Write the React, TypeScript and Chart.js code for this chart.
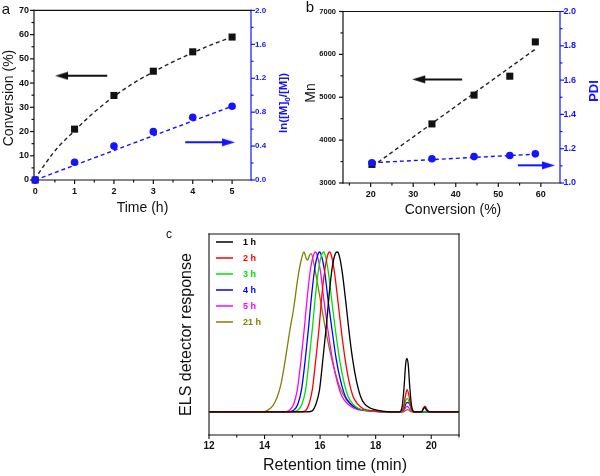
import React, { useEffect, useRef } from "react";
import { Chart, registerables } from "chart.js";

Chart.register(...registerables);

const FONT = "'Liberation Sans', Arial, Helvetica, sans-serif";
const INK = "#111111";
const BLUE = "#1414ff";
Chart.defaults.font.family = FONT;

// ---------------- panel a ----------------
const timeH = [0, 1, 2, 3, 4, 5];
const conversionPct = [0, 21.0, 34.9, 44.9, 52.9, 59.0];
const lnM0overM = [0, 0.21, 0.4, 0.57, 0.74, 0.87];
const convFitTime = [0, 0.04, 0.1, 0.2, 0.3, 0.45, 0.6, 0.8, 1, 1.25, 1.5, 2, 2.5, 3, 3.5, 4, 4.5, 5];
const convFitPct = [0, 1.3, 3.0, 5.4, 7.7, 11.0, 13.9, 17.2, 20.3, 24.3, 28, 34.5, 40, 44.6, 48.8, 52.5, 56, 59];
const lnFitTime = [0, 5];
const lnFitVal = [0, 0.87];
const arrowConvA: [number, number][] = [[0.81, 43], [1.83, 43]];
const arrowLnA: [number, number][] = [[3.81, 0.445], [4.77, 0.445]];
const aTimeTicks = [0, 1, 2, 3, 4, 5];
const aTimeMinor = [0.5, 1.5, 2.5, 3.5, 4.5];
const aConvTicks = [0, 10, 20, 30, 40, 50, 60, 70];
const aConvMinor = [5, 15, 25, 35, 45, 55, 65];
const aLnTicks = [0, 0.4, 0.8, 1.2, 1.6, 2.0];
const aLnMinor = [0.2, 0.6, 1.0, 1.4, 1.8];

// ---------------- panel b ----------------
const bConv = [20.3, 34.4, 44.3, 52.7, 58.7];
const bMn = [3434, 4378, 5050, 5491, 6291];
const bPdi = [1.118, 1.141, 1.154, 1.16, 1.17];
const bMnFitX = [20.4, 58.6];
const bMnFitY = [3389, 6115];
const bPdiFitX = [20.3, 58.7];
const bPdiFitY = [1.118, 1.168];
const arrowMnB: [number, number][] = [[32.6, 5416], [41.5, 5416]];
const arrowPdiB: [number, number][] = [[54.6, 1.103], [60.5, 1.103]];
const bConvTicks = [20, 30, 40, 50, 60];
const bConvMinor = [15, 25, 35, 45, 55];
const bMnTicks = [3000, 4000, 5000, 6000, 7000];
const bMnMinor = [3500, 4500, 5500, 6500];
const bPdiTicks = [1.0, 1.2, 1.4, 1.6, 1.8, 2.0];
const bPdiMinor = [1.1, 1.3, 1.5, 1.7, 1.9];

// ---------------- panel c ----------------
const gpcLabels = ["1 h", "2 h", "3 h", "4 h", "5 h", "21 h"];
const trace1h: [number, number][] = [
  [12, 0], [15.5, 0], [15.7, 0.005], [15.85, 0.05], [15.98, 0.14], [16.1, 0.33], [16.22, 0.53],
  [16.34, 0.76], [16.45, 0.92], [16.55, 0.99], [16.62, 1.0], [16.7, 0.97], [16.8, 0.87], [16.93, 0.68],
  [17.05, 0.49], [17.17, 0.33], [17.3, 0.2], [17.45, 0.1], [17.6, 0.05], [17.8, 0.025], [18.1, 0.01],
  [18.4, 0.002], [18.85, 0], [18.95, 0.03], [19.02, 0.15], [19.08, 0.3], [19.12, 0.335], [19.17, 0.3],
  [19.23, 0.15], [19.3, 0.03], [19.4, 0], [19.65, 0], [19.72, 0.02], [19.77, 0.028], [19.83, 0.012],
  [19.92, 0], [21, 0],
];
const trace2h: [number, number][] = [
  [12, 0], [15.25, 0], [15.45, 0.005], [15.6, 0.05], [15.72, 0.14], [15.84, 0.32], [15.96, 0.52],
  [16.07, 0.74], [16.18, 0.9], [16.27, 0.98], [16.34, 1.0], [16.42, 0.97], [16.52, 0.87], [16.65, 0.68],
  [16.77, 0.5], [16.9, 0.33], [17.03, 0.2], [17.18, 0.1], [17.35, 0.05], [17.55, 0.02], [17.85, 0.008],
  [18.2, 0.002], [18.9, 0], [19.0, 0.03], [19.07, 0.1], [19.13, 0.14], [19.19, 0.11], [19.26, 0.04],
  [19.35, 0], [19.65, 0], [19.72, 0.025], [19.78, 0.036], [19.85, 0.015], [19.94, 0], [21, 0],
];
const trace3h: [number, number][] = [
  [12, 0], [15.0, 0], [15.2, 0.01], [15.35, 0.05], [15.48, 0.14], [15.6, 0.32], [15.72, 0.52],
  [15.84, 0.74], [15.95, 0.9], [16.05, 0.98], [16.12, 1.0], [16.2, 0.97], [16.3, 0.87], [16.43, 0.68],
  [16.56, 0.5], [16.7, 0.33], [16.84, 0.2], [17.0, 0.1], [17.18, 0.05], [17.4, 0.02], [17.7, 0.008],
  [18.1, 0.002], [18.9, 0], [19.0, 0.02], [19.08, 0.07], [19.14, 0.085], [19.2, 0.065], [19.28, 0.02],
  [19.38, 0], [21, 0],
];
const trace4h: [number, number][] = [
  [12, 0], [14.85, 0], [15.05, 0.01], [15.2, 0.05], [15.33, 0.14], [15.46, 0.32], [15.58, 0.52],
  [15.7, 0.74], [15.81, 0.9], [15.91, 0.98], [15.98, 1.0], [16.06, 0.97], [16.17, 0.87], [16.3, 0.68],
  [16.44, 0.5], [16.58, 0.33], [16.73, 0.2], [16.9, 0.1], [17.1, 0.05], [17.35, 0.02], [17.7, 0.008],
  [18.1, 0.002], [18.9, 0], [19.02, 0.02], [19.1, 0.055], [19.17, 0.06], [19.24, 0.04], [19.32, 0.01],
  [19.42, 0], [21, 0],
];
const trace5h: [number, number][] = [
  [12, 0], [14.7, 0], [14.9, 0.01], [15.05, 0.05], [15.18, 0.14], [15.31, 0.32], [15.43, 0.52],
  [15.55, 0.74], [15.66, 0.9], [15.76, 0.98], [15.83, 1.0], [15.91, 0.97], [16.02, 0.87], [16.15, 0.68],
  [16.29, 0.5], [16.44, 0.33], [16.6, 0.2], [16.78, 0.1], [17.0, 0.05], [17.25, 0.02], [17.6, 0.008],
  [18.0, 0.002], [18.95, 0], [19.05, 0.02], [19.12, 0.035], [19.18, 0.03], [19.26, 0.01], [19.35, 0], [21, 0],
];
const trace21h: [number, number][] = [
  [12, 0], [13.9, 0], [14.1, 0.01], [14.3, 0.04], [14.45, 0.09], [14.6, 0.18], [14.75, 0.33],
  [14.9, 0.5], [15.05, 0.65], [15.2, 0.84], [15.32, 0.95], [15.42, 1.0], [15.5, 0.96], [15.56, 0.95],
  [15.62, 0.98], [15.68, 0.99], [15.76, 0.94], [15.87, 0.84], [15.98, 0.73], [16.16, 0.55], [16.34, 0.39],
  [16.52, 0.26], [16.7, 0.16], [16.95, 0.075], [17.2, 0.035], [17.5, 0.015], [18.0, 0.005], [18.5, 0],
  [19.0, 0], [19.08, 0.01], [19.14, 0.015], [19.22, 0.008], [19.3, 0], [21, 0],
];
const gpcTraces = [trace1h, trace2h, trace3h, trace4h, trace5h, trace21h];
const gpcColors = ["#000000", "#ff0000", "#00e000", "#0000ff", "#ff00ff", "#808000"];
const cTimeTicks = [12, 14, 16, 18, 20];
const cTimeMinor = [13, 15, 17, 19, 21];

// ---------------- helpers ----------------
const pts = (xs: number[], ys: number[]) => xs.map((x, i) => ({ x, y: ys[i] }));
const pairs = (p: [number, number][]) => p.map(([x, y]) => ({ x, y }));

function arrowHead(color: string) {
  const c = document.createElement("canvas");
  c.width = 24;
  c.height = 9;
  const g = c.getContext("2d")!;
  g.fillStyle = color;
  g.beginPath();
  g.moveTo(11, 0.5);
  g.lineTo(24, 4.5);
  g.lineTo(11, 8.5);
  g.closePath();
  g.fill();
  return c;
}

type TickSpec = { scale: string; major: number[]; minor: number[]; color: string };
function framePlugin(sides: { top: string; bottom: string; left: string; right: string }, ticks: TickSpec[], lw = 1.2) {
  return {
    id: "frame",
    beforeDatasetsDraw(chart: any) {
      const { ctx, chartArea: a } = chart;
      ctx.save();
      ctx.lineWidth = lw;
      ctx.lineCap = "square";
      const seg = (color: string, x1: number, y1: number, x2: number, y2: number) => {
        ctx.strokeStyle = color;
        ctx.beginPath();
        ctx.moveTo(x1, y1);
        ctx.lineTo(x2, y2);
        ctx.stroke();
      };
      seg(sides.top, a.left, a.top, a.right, a.top);
      seg(sides.bottom, a.left, a.bottom, a.right, a.bottom);
      seg(sides.left, a.left, a.top, a.left, a.bottom);
      seg(sides.right, a.right, a.top, a.right, a.bottom);
      ctx.lineCap = "butt";
      for (const t of ticks) {
        const s = chart.scales[t.scale];
        const pos = s.options.position;
        const draw = (v: number, len: number) => {
          const p = s.getPixelForValue(v);
          if (pos === "bottom") seg(t.color, p, a.bottom, p, a.bottom + len);
          else if (pos === "left") seg(t.color, a.left, p, a.left - len, p);
          else seg(t.color, a.right, p, a.right + len, p);
        };
        t.major.forEach((v) => draw(v, 4));
        t.minor.forEach((v) => draw(v, 2.5));
      }
      ctx.restore();
    },
  };
}

type TextItem = {
  parts: { t: string; sub?: boolean }[];
  x: number;
  y: number;
  rot?: number;
  size: number;
  weight?: string;
  color?: string;
};
function textPlugin(items: TextItem[]) {
  return {
    id: "texts",
    afterDraw(chart: any) {
      const ctx = chart.ctx;
      for (const it of items) {
        ctx.save();
        ctx.translate(it.x, it.y);
        if (it.rot) ctx.rotate((it.rot * Math.PI) / 180);
        ctx.fillStyle = it.color || INK;
        ctx.textBaseline = "middle";
        ctx.textAlign = "left";
        const fonts = it.parts.map((p) => `${it.weight || "normal"} ${p.sub ? it.size * 0.7 : it.size}px ${FONT}`);
        let total = 0;
        const widths = it.parts.map((p, i) => {
          ctx.font = fonts[i];
          const w = ctx.measureText(p.t).width;
          total += w;
          return w;
        });
        let x = -total / 2;
        it.parts.forEach((p, i) => {
          ctx.font = fonts[i];
          ctx.fillText(p.t, x, p.sub ? it.size * 0.3 : 0);
          x += widths[i];
        });
        ctx.restore();
      }
    },
  };
}

function legendPlugin() {
  return {
    id: "gpcLegend",
    afterDraw(chart: any) {
      const { ctx, chartArea: a } = chart;
      ctx.save();
      chart.data.datasets.forEach((ds: any, i: number) => {
        const y = a.top + 8 + i * 16;
        ctx.strokeStyle = ds.borderColor;
        ctx.lineWidth = 1.5;
        ctx.beginPath();
        ctx.moveTo(a.left + 7, y);
        ctx.lineTo(a.left + 24, y);
        ctx.stroke();
        ctx.fillStyle = ds.borderColor;
        ctx.font = `bold 9px ${FONT}`;
        ctx.textBaseline = "middle";
        ctx.textAlign = "left";
        ctx.fillText(ds.label, a.left + 34, y + 0.5);
      });
      ctx.restore();
    },
  };
}

function axis(opts: {
  position: string;
  min: number;
  max: number;
  ticks: number[];
  size: number;
  pad: number;
  font: number;
  color: string;
  fmt?: (v: number) => string;
}) {
  const horizontal = opts.position === "bottom";
  return {
    type: "linear",
    position: opts.position,
    min: opts.min,
    max: opts.max,
    grid: { display: false, drawTicks: false },
    border: { display: false },
    afterBuildTicks: (s: any) => {
      s.ticks = opts.ticks.map((v) => ({ value: v }));
    },
    afterFit: (s: any) => {
      if (horizontal) s.height = opts.size;
      else s.width = opts.size;
    },
    ticks: {
      autoSkip: false,
      maxRotation: 0,
      padding: opts.pad,
      color: opts.color,
      font: { family: FONT, size: opts.font, weight: "bold" },
      callback: (v: any) => (opts.fmt ? opts.fmt(Number(v)) : String(v)),
    },
  };
}

function baseOptions(padding: any, scales: any) {
  return {
    animation: false,
    responsive: true,
    maintainAspectRatio: false,
    events: [],
    layout: { padding },
    plugins: { legend: { display: false }, tooltip: { enabled: false } },
    scales,
  };
}

function makeA(): any {
  const headK = arrowHead(INK);
  const headB = arrowHead(BLUE);
  return {
    type: "scatter",
    data: {
      datasets: [
        { data: pts(timeH, lnM0overM), yAxisID: "y2", pointStyle: "circle", pointRadius: 3.8, backgroundColor: BLUE, borderWidth: 0, clip: false },
        { data: pts(timeH, conversionPct), yAxisID: "y", pointStyle: "rect", pointRadius: 5, backgroundColor: INK, borderWidth: 0, clip: false },
        { data: pts(convFitTime, convFitPct), yAxisID: "y", showLine: true, borderColor: "#222", borderWidth: 1.4, borderDash: [4, 3], pointRadius: 0, cubicInterpolationMode: "monotone" },
        { data: pts(lnFitTime, lnFitVal), yAxisID: "y2", showLine: true, borderColor: BLUE, borderWidth: 1.4, borderDash: [4, 3], pointRadius: 0 },
        { data: pairs(arrowConvA), yAxisID: "y", showLine: true, borderColor: INK, borderWidth: 2, pointStyle: headK, pointRadius: [4, 0], pointRotation: [180, 0], clip: false },
        { data: pairs(arrowLnA), yAxisID: "y2", showLine: true, borderColor: BLUE, borderWidth: 2, pointStyle: headB, pointRadius: [0, 4], pointRotation: [0, 0], clip: false },
      ],
    },
    options: baseOptions({ top: 8, left: 0, right: 0, bottom: 0 }, {
      x: axis({ position: "bottom", min: -0.03, max: 5.48, ticks: aTimeTicks, size: 42, pad: 6, font: 9, color: INK }),
      y: axis({ position: "left", min: 0, max: 70, ticks: aConvTicks, size: 34, pad: 5, font: 9, color: INK }),
      y2: axis({ position: "right", min: 0, max: 2, ticks: aLnTicks, size: 49, pad: 4, font: 8, color: BLUE, fmt: (v) => v.toFixed(1) }),
    }),
    plugins: [
      framePlugin({ top: INK, bottom: INK, left: INK, right: BLUE }, [
        { scale: "x", major: aTimeTicks, minor: aTimeMinor, color: INK },
        { scale: "y", major: aConvTicks, minor: aConvMinor, color: INK },
        { scale: "y2", major: aLnTicks, minor: aLnMinor, color: BLUE },
      ]),
      textPlugin([
        { parts: [{ t: "a" }], x: 6, y: 10, size: 15 },
        { parts: [{ t: "Conversion (%)" }], x: 9, y: 98, rot: -90, size: 14 },
        { parts: [{ t: "Time (h)" }], x: 142.5, y: 208.5, size: 14 },
        { parts: [{ t: "ln([M]" }, { t: "0", sub: true }, { t: "/[M])" }], x: 284, y: 103, rot: -90, size: 11.5, weight: "bold", color: BLUE },
      ]),
    ],
  };
}

function makeB(): any {
  const headK = arrowHead(INK);
  const headB = arrowHead(BLUE);
  return {
    type: "scatter",
    data: {
      datasets: [
        { data: pts(bConv, bPdi), yAxisID: "y2", pointStyle: "circle", pointRadius: 3.8, backgroundColor: BLUE, borderWidth: 0, clip: false },
        { data: pts(bConv, bMn), yAxisID: "y", pointStyle: "rect", pointRadius: 5, backgroundColor: INK, borderWidth: 0, clip: false },
        { data: pts(bMnFitX, bMnFitY), yAxisID: "y", showLine: true, borderColor: "#222", borderWidth: 1.4, borderDash: [4, 3], pointRadius: 0 },
        { data: pts(bPdiFitX, bPdiFitY), yAxisID: "y2", showLine: true, borderColor: BLUE, borderWidth: 1.4, borderDash: [4, 3], pointRadius: 0 },
        { data: pairs(arrowMnB), yAxisID: "y", showLine: true, borderColor: INK, borderWidth: 2, pointStyle: headK, pointRadius: [4, 0], pointRotation: [180, 0], clip: false },
        { data: pairs(arrowPdiB), yAxisID: "y2", showLine: true, borderColor: BLUE, borderWidth: 2, pointStyle: headB, pointRadius: [0, 4], pointRotation: [0, 0], clip: false },
      ],
    },
    options: baseOptions({ top: 8, left: 0, right: 0, bottom: 0 }, {
      x: axis({ position: "bottom", min: 13.5, max: 64.5, ticks: bConvTicks, size: 39, pad: 6.5, font: 9, color: INK }),
      y: axis({ position: "left", min: 3000, max: 7000, ticks: bMnTicks, size: 43, pad: 7, font: 7.5, color: INK }),
      y2: axis({ position: "right", min: 1, max: 2, ticks: bPdiTicks, size: 40, pad: 3.5, font: 9, color: BLUE, fmt: (v) => v.toFixed(1) }),
    }),
    plugins: [
      framePlugin({ top: INK, bottom: INK, left: INK, right: BLUE }, [
        { scale: "x", major: bConvTicks, minor: bConvMinor, color: INK },
        { scale: "y", major: bMnTicks, minor: bMnMinor, color: INK },
        { scale: "y2", major: bPdiTicks, minor: bPdiMinor, color: BLUE },
      ]),
      textPlugin([
        { parts: [{ t: "b" }], x: 10, y: 8, size: 15 },
        { parts: [{ t: "Mn" }], x: 11, y: 93, rot: -90, size: 14 },
        { parts: [{ t: "Conversion (%)" }], x: 153, y: 210.5, size: 14 },
        { parts: [{ t: "PDI" }], x: 294, y: 91, rot: -90, size: 13, weight: "bold", color: BLUE },
      ]),
    ],
  };
}

function makeC(): any {
  return {
    type: "scatter",
    data: {
      datasets: gpcTraces.map((tr, i) => ({
        label: gpcLabels[i],
        data: pairs(tr),
        showLine: true,
        borderColor: gpcColors[i],
        backgroundColor: gpcColors[i],
        borderWidth: 1.3,
        pointRadius: 0,
        cubicInterpolationMode: "monotone",
      })),
    },
    options: baseOptions({ top: 12, left: 59, right: 21, bottom: 0 }, {
      x: axis({ position: "bottom", min: 12, max: 21, ticks: cTimeTicks, size: 41, pad: 5, font: 10, color: INK }),
      y: { type: "linear", display: false, min: -0.144, max: 1.1125 },
    }),
    plugins: [
      framePlugin({ top: INK, bottom: INK, left: INK, right: INK }, [
        { scale: "x", major: cTimeTicks, minor: cTimeMinor, color: INK },
      ], 1.1),
      legendPlugin(),
      textPlugin([
        { parts: [{ t: "c" }], x: 19, y: 12.5, size: 12 },
        { parts: [{ t: "ELS detector response" }], x: 36.5, y: 112.5, rot: -90, size: 16 },
        { parts: [{ t: "Retention time (min)" }], x: 185, y: 243.5, size: 16 },
      ]),
    ],
  };
}

function Panel({ make, left, top, width, height }: { make: () => any; left: number; top: number; width: number; height: number }) {
  const ref = useRef<HTMLCanvasElement>(null);
  useEffect(() => {
    const chart = new Chart(ref.current as HTMLCanvasElement, make());
    return () => chart.destroy();
  }, []);
  return (
    <div style={{ position: "absolute", left, top, width, height }}>
      <canvas ref={ref} />
    </div>
  );
}

export default function App() {
  return (
    <div style={{ position: "absolute", left: 0, top: 0, width: 600, height: 476, background: "#fff", overflow: "hidden" }}>
      <Panel make={makeA} left={0} top={0} width={300} height={222} />
      <Panel make={makeB} left={300} top={0} width={300} height={222} />
      <Panel make={makeC} left={150} top={222} width={330} height={254} />
    </div>
  );
}
